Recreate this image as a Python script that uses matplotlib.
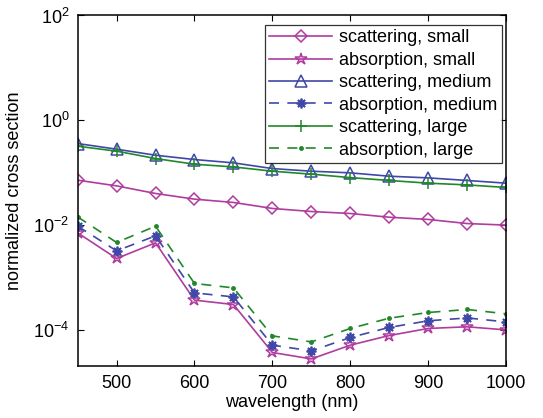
import math
import matplotlib
matplotlib.use("Agg")
import matplotlib.pyplot as plt
from matplotlib.ticker import FixedLocator, FuncFormatter, NullLocator

plt.rcParams['font.family'] = ['Liberation Sans', 'DejaVu Sans']
plt.rcParams['mathtext.fontset'] = 'custom'
plt.rcParams['mathtext.rm'] = 'Liberation Sans'
plt.rcParams['mathtext.it'] = 'Liberation Sans:italic'

wavelength = [450, 500, 550, 600, 650, 700, 750, 800, 850, 900, 950, 1000]

scat_small = [0.0714, 0.0556, 0.0398, 0.0310, 0.0268, 0.0206, 0.0180, 0.0165, 0.0140, 0.0127, 0.0106, 0.0099]
abs_small = [0.00705, 0.00228, 0.00454, 3.65e-4, 3.01e-4, 3.65e-5, 2.75e-5, 5.04e-5, 7.7e-5, 1.05e-4, 1.13e-4, 9.86e-5]
scat_medium = [0.358, 0.279, 0.214, 0.177, 0.153, 0.119, 0.106, 0.0986, 0.085, 0.079, 0.0705, 0.0626]
abs_medium = [0.00944, 0.00319, 0.00617, 5.02e-4, 4.21e-4, 5.04e-5, 3.92e-5, 7.06e-5, 1.10e-4, 1.47e-4, 1.67e-4, 1.40e-4]
scat_large = [0.318, 0.256, 0.185, 0.144, 0.128, 0.106, 0.093, 0.080, 0.0705, 0.0626, 0.058, 0.0518]
abs_large = [0.0142, 0.00461, 0.00944, 7.6e-4, 6.26e-4, 7.58e-5, 5.82e-5, 1.05e-4, 1.65e-4, 2.12e-4, 2.42e-4, 2.0e-4]

labels = ['scattering, small', 'absorption, small', 'scattering, medium',
          'absorption, medium', 'scattering, large', 'absorption, large']

magenta = '#B03C9E'
blue = '#3F48A8'
green = '#21882A'

fig = plt.figure(figsize=(5.43, 4.18), dpi=100)
ax = fig.add_axes([0.143, 0.124, 0.789, 0.839])

lw = 1.2
dash = (0, (6, 5))
ax.plot(wavelength, scat_small, color=magenta, lw=lw, marker='D', ms=6.5,
        mfc='none', mec=magenta, mew=1.1, label=labels[0])
ax.plot(wavelength, abs_small, color=magenta, lw=lw, marker='*', ms=9,
        mfc='none', mec=magenta, mew=1.1, label=labels[1])
ax.plot(wavelength, scat_medium, color=blue, lw=lw, marker='^', ms=8,
        mfc='none', mec=blue, mew=1.1, label=labels[2])
ax.plot(wavelength, abs_medium, color=blue, lw=lw, ls=dash, marker=(8, 2, 0), ms=7,
        mec=blue, mew=1.3, label=labels[3])
ax.plot(wavelength, scat_large, color=green, lw=lw, marker='+', ms=8,
        mec=green, mew=1.1, label=labels[4])
ax.plot(wavelength, abs_large, color=green, lw=lw, ls=dash, marker='.', ms=5,
        mfc=green, mec=green, label=labels[5])

ax.set_yscale('log')
ax.set_xlim(450, 1000)
ax.set_ylim(2e-5, 1e2)
ax.xaxis.set_major_locator(FixedLocator([500, 600, 700, 800, 900, 1000]))
ax.yaxis.set_major_locator(FixedLocator([1e-4, 1e-2, 1e0, 1e2]))
ax.yaxis.set_minor_locator(NullLocator())
ax.yaxis.set_major_formatter(
    FuncFormatter(lambda v, p: r'$\mathregular{10^{%d}}$' % round(math.log10(v))))

ax.tick_params(axis='both', which='both', direction='in', top=True, right=True,
               labelsize=13, length=4, width=0.8, pad=6)
for s in ax.spines.values():
    s.set_linewidth(1.1)

ax.set_xlabel('wavelength (nm)', fontsize=13, labelpad=2)
ax.set_ylabel('normalized cross section', fontsize=13, labelpad=7)

leg = ax.legend(loc='upper right', bbox_to_anchor=(0.991, 0.973), fontsize=13,
                numpoints=1, handlelength=3.5, frameon=True, fancybox=False,
                borderpad=0.25, labelspacing=0.3, handletextpad=0.4, borderaxespad=0)
leg.get_frame().set_edgecolor('black')
leg.get_frame().set_linewidth(0.9)

fig.savefig('out.png', dpi=100)
